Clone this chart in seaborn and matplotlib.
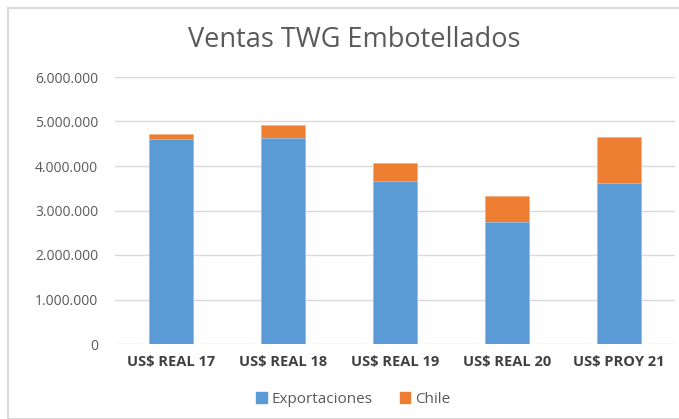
import matplotlib
matplotlib.use('Agg')
import matplotlib.pyplot as plt
import matplotlib.ticker as mticker
from matplotlib.patches import Rectangle, Patch
import pandas as pd
import seaborn as sns

CATEGORIAS = ['US$ REAL 17', 'US$ REAL 18', 'US$ REAL 19', 'US$ REAL 20', 'US$ PROY 21']
EXPORTACIONES = [4600000, 4640000, 3660000, 2750000, 3610000]
CHILE = [130000, 290000, 410000, 580000, 1040000]

AZUL = '#5B9BD5'
NARANJA = '#ED7D31'
GRIS_TEXTO = '#595959'


def miles(x, pos):
    return f'{int(round(x)):,}'.replace(',', '.')


def main():
    sns.set_theme(style='white')
    plt.rcParams['font.family'] = ['Open Sans', 'DejaVu Sans']

    df = pd.DataFrame({
        'Categoría': CATEGORIAS,
        'Exportaciones': EXPORTACIONES,
        'Chile': CHILE,
    })
    df['Total'] = df['Exportaciones'] + df['Chile']

    fig = plt.figure(figsize=(6.79, 4.19), dpi=100)
    fig.patches.append(Rectangle((8 / 679, 0), 1, 1 - 8 / 419,
                                 transform=fig.transFigure, fill=False,
                                 edgecolor='#D9D9D9', linewidth=1.5))
    ax = fig.add_axes([115 / 679, 1 - 344 / 419, 560 / 679, 267 / 419])

    sns.barplot(data=df, x='Categoría', y='Total', color=NARANJA, width=0.4,
                saturation=1, ax=ax, edgecolor='#F4B183', linewidth=0.6)
    sns.barplot(data=df, x='Categoría', y='Exportaciones', color=AZUL, width=0.4,
                saturation=1, ax=ax, edgecolor='#9DC3E6', linewidth=0.6)

    ax.set_ylim(0, 6000000)
    ax.set_yticks(range(0, 6000001, 1000000))
    ax.yaxis.set_major_formatter(mticker.FuncFormatter(miles))
    ax.grid(axis='y', color='#D9D9D9', linewidth=1)
    ax.set_axisbelow(True)
    for s in ax.spines.values():
        s.set_visible(False)
    ax.set_xlabel('')
    ax.set_ylabel('')
    ax.tick_params(axis='y', labelsize=10, labelcolor=GRIS_TEXTO, length=0, pad=12)
    ax.tick_params(axis='x', labelsize=10.5, labelcolor='#404040', length=0, pad=8)
    for t in ax.get_xticklabels():
        t.set_fontweight('bold')

    fig.text(0.522, 1 - 40 / 419, 'Ventas TWG Embotellados', ha='center', va='center',
             fontsize=19.5, color=GRIS_TEXTO)

    handles = [Patch(color=AZUL, label='Exportaciones'), Patch(color=NARANJA, label='Chile')]
    fig.legend(handles=handles, loc='center', bbox_to_anchor=(0.52, 1 - 399 / 419),
               ncol=2, frameon=False, fontsize=11, handlelength=0.7, handleheight=0.7,
               handletextpad=0.3, columnspacing=1.8, labelcolor=GRIS_TEXTO)

    fig.savefig('out.png', dpi=100)


if __name__ == '__main__':
    main()
